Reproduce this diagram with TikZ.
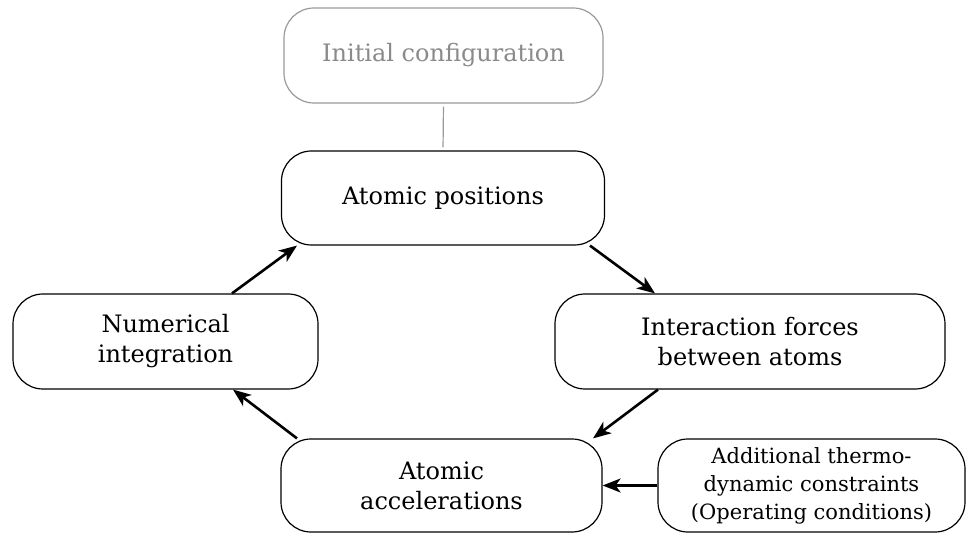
\documentclass[tikz,border=0pt]{standalone}
\usepackage{fontspec}
\setmainfont{DejaVu Serif}
\usetikzlibrary{arrows.meta}
\definecolor{lightgray}{HTML}{9A9A9A}
\definecolor{textgray}{HTML}{8A8A8A}
\tikzset{
  box/.style={draw=black, line width=1.2pt, rounded corners=30pt, align=center,
    inner sep=0pt, font=\fontsize{24}{30}\selectfont},
  graybox/.style={box, draw=lightgray, text=textgray},
  flow/.style={line width=2.6pt, -{Stealth[length=18pt,width=14pt,inset=5pt]}},
}
\begin{document}
\begin{tikzpicture}[x=1pt,y=-1pt]
\useasboundingbox (0,0) rectangle (969,534);
\node[graybox, minimum width=319pt, minimum height=95pt] (init) at (443.5,55.5) {Initial configuration};
\node[box, minimum width=323pt, minimum height=94pt] (pos) at (443,198) {Atomic positions};
\node[box, minimum width=390pt, minimum height=95pt] (inter) at (750,341.5) {Interaction forces\\between atoms};
\node[box, minimum width=305pt, minimum height=95pt] (num) at (165.5,341.5) {Numerical\\integration};
\node[box, minimum width=321pt, minimum height=93pt] (acc) at (441.5,485.5) {Atomic\\accelerations};
\node[box, minimum width=307pt, minimum height=93pt, font=\fontsize{21}{28}\selectfont] (add) at (811.5,485.5) {Additional thermo-\\dynamic constraints\\(Operating conditions)};
\draw[lightgray, line width=1.2pt, shorten >=3pt, shorten <=3pt] (init.south) -- (pos.north);
\draw[flow] ([xshift=66.5pt]num.north) -- ([xshift=-146pt]pos.south);
\draw[flow] ([xshift=147pt]pos.south) -- ([xshift=-95pt]inter.north);
\draw[flow] ([xshift=-92pt]inter.south) -- ([xshift=151.5pt]acc.north);
\draw[flow] (add.west) -- (acc.east);
\draw[flow] ([xshift=-144.5pt]acc.north) -- ([xshift=67.5pt]num.south);
\end{tikzpicture}
\end{document}
